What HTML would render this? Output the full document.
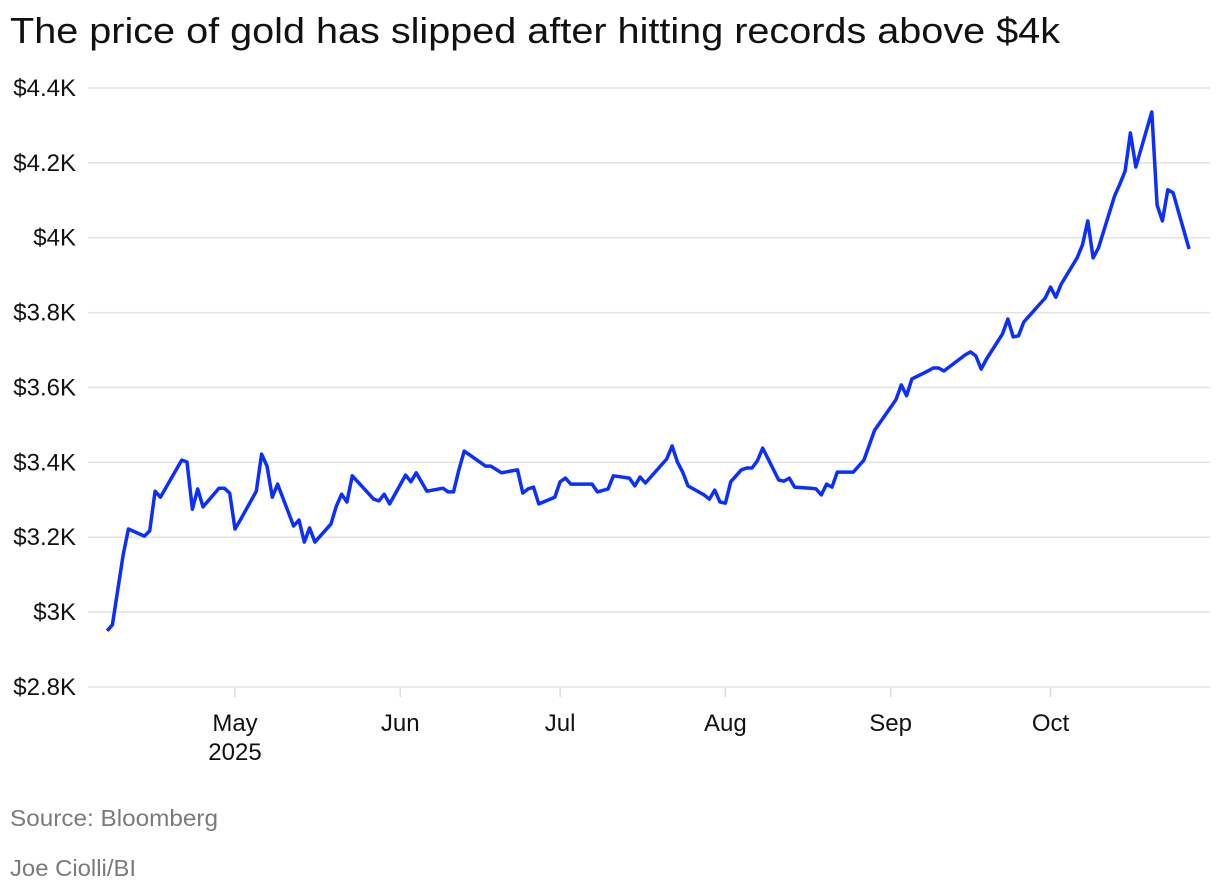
<!DOCTYPE html>
<html><head><meta charset="utf-8">
<style>
body{margin:0;width:1220px;height:892px;background:#fff;font-family:"Liberation Sans",sans-serif;overflow:hidden}
svg{position:absolute;left:0;top:0}
</style></head>
<body>
<svg id="chart" width="1220" height="892">
<text x="10" y="43" font-size="36" fill="#111" textLength="1050" lengthAdjust="spacingAndGlyphs">The price of gold has slipped after hitting records above $4k</text>
<g id="grid"></g>
<g id="yt"></g>
<g id="xt"></g>
<path id="line" fill="none" stroke="#0a2fff" stroke-width="3.5" stroke-linejoin="round"/>
<text x="10" y="826" font-size="23" fill="#7a7a7a" textLength="208" lengthAdjust="spacingAndGlyphs">Source: Bloomberg</text>
<text x="10" y="876" font-size="23" fill="#7a7a7a" textLength="126" lengthAdjust="spacingAndGlyphs">Joe Ciolli/BI</text>
</svg>
<script>
// days since Apr 1 2025
const days=[6,7,9,10,13,14,15,16,20,21,22,23,24,27,28,29,30,31,34,35,36,37,38,41,42,43,44,45,48,49,50,51,52,56,57,58,59,62,63,64,66,69,70,71,72,73,77,78,80,83,84,85,86,87,90,91,92,93,97,98,100,101,104,105,106,107,111,112,113,114,115,118,119,120,121,122,123,125,126,127,128,129,132,133,134,135,138,139,140,141,142,143,146,148,150,154,155,156,157,160,161,162,163,167,168,169,170,171,174,175,176,177,178,181,182,183,184,185,188,189,190,191,192,195,196,197,198,199,202,203,204,205,206,209];
const prices=[2.95,2.966,3.152,3.222,3.203,3.217,3.323,3.307,3.406,3.401,3.275,3.329,3.281,3.331,3.331,3.318,3.222,3.246,3.323,3.422,3.39,3.307,3.342,3.23,3.246,3.187,3.225,3.187,3.235,3.283,3.315,3.294,3.364,3.302,3.297,3.315,3.289,3.366,3.348,3.372,3.323,3.331,3.321,3.321,3.38,3.43,3.39,3.39,3.372,3.38,3.318,3.329,3.334,3.289,3.307,3.348,3.358,3.342,3.342,3.321,3.329,3.364,3.358,3.337,3.361,3.345,3.409,3.444,3.401,3.374,3.337,3.313,3.302,3.326,3.294,3.291,3.348,3.38,3.385,3.385,3.404,3.438,3.353,3.35,3.358,3.334,3.331,3.329,3.313,3.342,3.334,3.374,3.374,3.406,3.486,3.567,3.607,3.578,3.623,3.644,3.652,3.652,3.644,3.687,3.695,3.684,3.649,3.676,3.743,3.783,3.735,3.738,3.775,3.823,3.839,3.868,3.841,3.876,3.946,3.981,4.045,3.946,3.973,4.111,4.143,4.178,4.28,4.189,4.336,4.087,4.045,4.128,4.12,3.97];
const yTicks=[2.8,3,3.2,3.4,3.6,3.8,4,4.2,4.4];
const yLabels=["$2.8K","$3K","$3.2K","$3.4K","$3.6K","$3.8K","$4K","$4.2K","$4.4K"];
const monthDays=[30,61,91,122,153,183];
const monthLabels=["May","Jun","Jul","Aug","Sep","Oct"];
const NS="http://www.w3.org/2000/svg";
const xs=d=>235+(d-30)*5.33;
const ys=v=>687-(v-2.8)*374.4;
function mk(tag,attrs,parent,txt){const e=document.createElementNS(NS,tag);for(const k in attrs)e.setAttribute(k,attrs[k]);if(txt!==undefined)e.textContent=txt;parent.appendChild(e);return e;}
const grid=document.getElementById('grid'),yt=document.getElementById('yt'),xt=document.getElementById('xt');
yTicks.forEach((v,i)=>{
 const l=mk('line',{x1:88,x2:1210,y1:ys(v),y2:ys(v),stroke:'#e2e2e2','stroke-width':1.5},grid);
 
 
 const t=mk('text',{x:76,y:ys(v)+8,'font-size':24,'text-anchor':'end',fill:'#111'},yt,yLabels[i]);
 
 
});
monthDays.forEach((d,i)=>{
 const tk=mk('line',{x1:xs(d),x2:xs(d),y1:688,y2:697,stroke:'#dcdcdc','stroke-width':1.5},xt);
 
 
 const t=mk('text',{x:xs(d),y:731,'font-size':24,'text-anchor':'middle',fill:'#111'},xt,monthLabels[i]);
 
 
});
const yr=mk('text',{x:xs(30),y:760,'font-size':24,'text-anchor':'middle',fill:'#111'},xt,"2025");


document.getElementById('line').setAttribute('d',days.map((d,i)=>(i?'L':'M')+xs(d).toFixed(1)+','+ys(prices[i]).toFixed(1)).join(''));
</script>
</body></html>
